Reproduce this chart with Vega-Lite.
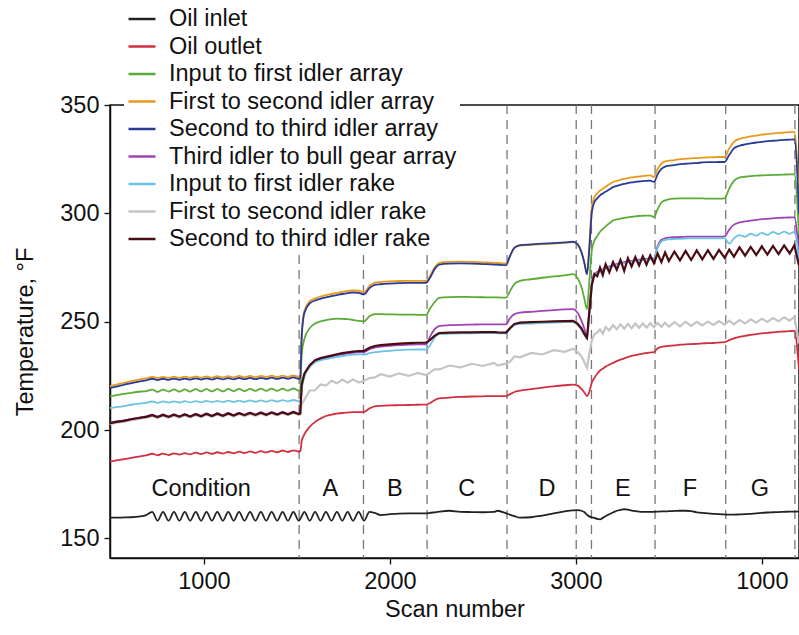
{
  "$schema": "https://vega.github.io/schema/vega-lite/v6.json",
  "autosize": {"type": "none"},
  "padding": {"left": 110, "top": 105, "right": 0, "bottom": 77},
  "width": 689,
  "height": 453,
  "background": "white",
  "config": {
    "font": "Liberation Sans",
    "view": {"stroke": "#111", "strokeWidth": 1.5},
    "axis": {"domainColor": "#111", "domainWidth": 1.5, "tickColor": "#111", "tickWidth": 1.3, "tickSize": 6, "labelFontSize": 23.5, "labelColor": "#111", "titleFontSize": 23.5, "titleFontWeight": "normal", "titleColor": "#111", "grid": false, "labelFont": "Liberation Sans", "titleFont": "Liberation Sans"}
  },
  "datasets": {
    "temps": [
        {"x":495,"a":159.6,"b":185.5,"c":215.6,"d":220.3,"e":219.4,"f":203.4,"g":210.2,"h":202.8,"i":203.2},
        {"x":530,"a":159.6,"b":186.0,"c":216.1,"d":221.0,"e":220.1,"f":204.0,"g":210.6,"h":203.4,"i":203.8},
        {"x":570,"a":159.7,"b":186.6,"c":216.7,"d":221.8,"e":220.9,"f":204.5,"g":211.1,"h":203.9,"i":204.3},
        {"x":610,"a":159.8,"b":187.2,"c":217.2,"d":222.6,"e":221.7,"f":205.2,"g":211.7,"h":204.6,"i":205.0},
        {"x":650,"a":160.1,"b":187.8,"c":217.7,"d":223.3,"e":222.4,"f":205.8,"g":212.2,"h":205.2,"i":205.6},
        {"x":690,"a":160.8,"b":188.3,"c":218.0,"d":223.9,"e":223.0,"f":206.3,"g":212.6,"h":205.7,"i":206.1},
        {"x":722,"a":162.3,"b":189.1,"c":218.7,"d":224.6,"e":223.7,"f":207.1,"g":213.2,"h":206.5,"i":206.9},
        {"x":751,"a":158.2,"b":188.4,"c":217.7,"d":224.0,"e":223.1,"f":206.2,"g":212.6,"h":205.6,"i":206.0},
        {"x":780,"a":162.3,"b":189.2,"c":218.7,"d":224.6,"e":223.7,"f":207.2,"g":213.3,"h":206.6,"i":207.0},
        {"x":810,"a":158.2,"b":188.5,"c":217.8,"d":224.1,"e":223.2,"f":206.3,"g":212.7,"h":205.7,"i":206.1},
        {"x":839,"a":162.3,"b":189.3,"c":218.8,"d":224.7,"e":223.8,"f":207.3,"g":213.3,"h":206.7,"i":207.1},
        {"x":868,"a":158.2,"b":188.7,"c":217.8,"d":224.1,"e":223.2,"f":206.4,"g":212.7,"h":205.8,"i":206.2},
        {"x":897,"a":162.3,"b":189.4,"c":218.8,"d":224.7,"e":223.8,"f":207.4,"g":213.4,"h":206.8,"i":207.2},
        {"x":926,"a":158.2,"b":188.8,"c":217.8,"d":224.2,"e":223.3,"f":206.5,"g":212.8,"h":205.9,"i":206.3},
        {"x":956,"a":162.3,"b":189.6,"c":218.9,"d":224.8,"e":223.9,"f":207.5,"g":213.4,"h":206.9,"i":207.3},
        {"x":985,"a":158.2,"b":188.9,"c":217.9,"d":224.2,"e":223.3,"f":206.6,"g":212.8,"h":206.0,"i":206.4},
        {"x":1014,"a":162.3,"b":189.7,"c":218.9,"d":224.8,"e":223.9,"f":207.7,"g":213.5,"h":207.1,"i":207.5},
        {"x":1043,"a":158.2,"b":189.0,"c":217.9,"d":224.2,"e":223.3,"f":206.7,"g":212.9,"h":206.1,"i":206.5},
        {"x":1072,"a":162.3,"b":189.8,"c":218.9,"d":224.9,"e":224.0,"f":207.8,"g":213.5,"h":207.2,"i":207.6},
        {"x":1102,"a":158.2,"b":189.2,"c":217.9,"d":224.3,"e":223.4,"f":206.8,"g":212.9,"h":206.2,"i":206.6},
        {"x":1131,"a":162.3,"b":189.9,"c":219.0,"d":224.9,"e":224.0,"f":207.9,"g":213.6,"h":207.3,"i":207.7},
        {"x":1160,"a":158.2,"b":189.3,"c":218.0,"d":224.3,"e":223.4,"f":206.9,"g":213.0,"h":206.3,"i":206.7},
        {"x":1189,"a":162.3,"b":190.1,"c":219.0,"d":225.0,"e":224.1,"f":208.0,"g":213.6,"h":207.4,"i":207.8},
        {"x":1218,"a":158.2,"b":189.4,"c":218.0,"d":224.4,"e":223.5,"f":207.1,"g":213.0,"h":206.5,"i":206.9},
        {"x":1248,"a":162.3,"b":190.2,"c":219.0,"d":225.0,"e":224.1,"f":208.1,"g":213.7,"h":207.5,"i":207.9},
        {"x":1277,"a":158.2,"b":189.5,"c":218.1,"d":224.4,"e":223.5,"f":207.2,"g":213.1,"h":206.6,"i":207.0},
        {"x":1306,"a":162.3,"b":190.3,"c":219.1,"d":225.0,"e":224.1,"f":208.2,"g":213.7,"h":207.6,"i":208.0},
        {"x":1335,"a":158.2,"b":189.7,"c":218.1,"d":224.5,"e":223.6,"f":207.3,"g":213.1,"h":206.7,"i":207.1},
        {"x":1364,"a":162.3,"b":190.4,"c":219.1,"d":225.1,"e":224.2,"f":208.3,"g":213.8,"h":207.7,"i":208.1},
        {"x":1394,"a":158.2,"b":189.8,"c":218.1,"d":224.5,"e":223.6,"f":207.4,"g":213.2,"h":206.8,"i":207.2},
        {"x":1423,"a":162.3,"b":190.6,"c":219.1,"d":225.1,"e":224.2,"f":208.4,"g":213.8,"h":207.8,"i":208.2},
        {"x":1452,"a":158.2,"b":189.9,"c":218.2,"d":224.6,"e":223.7,"f":207.5,"g":213.3,"h":206.9,"i":207.3},
        {"x":1481,"a":162.3,"b":190.7,"c":219.2,"d":225.2,"e":224.3,"f":208.5,"g":213.9,"h":207.9,"i":208.3},
        {"x":1510,"a":158.2,"b":190.1,"c":218.2,"d":224.6,"e":223.7,"f":207.6,"g":213.3,"h":207.0,"i":207.4},
        {"x":1518,"a":159.0,"b":190.2,"c":218.5,"d":224.9,"e":224.0,"f":207.8,"g":213.5,"h":207.2,"i":207.7},
        {"x":1526,"a":160.3,"b":195.0,"c":235.0,"d":245.0,"e":243.0,"f":220.0,"g":219.0,"h":212.0,"i":221.0},
        {"x":1540,"a":162.3,"b":198.0,"c":242.0,"d":255.0,"e":254.0,"f":225.0,"g":224.5,"h":214.0,"i":226.0},
        {"x":1569,"a":158.2,"b":201.5,"c":247.0,"d":259.5,"e":258.5,"f":229.5,"g":229.0,"h":218.3,"i":230.0},
        {"x":1598,"a":162.3,"b":203.8,"c":249.2,"d":260.8,"e":259.8,"f":231.8,"g":231.3,"h":218.4,"i":232.3},
        {"x":1627,"a":158.2,"b":205.3,"c":250.2,"d":261.6,"e":260.6,"f":232.7,"g":232.2,"h":221.1,"i":233.2},
        {"x":1656,"a":162.3,"b":206.5,"c":250.8,"d":262.3,"e":261.3,"f":233.3,"g":232.8,"h":220.6,"i":233.8},
        {"x":1686,"a":158.2,"b":207.2,"c":251.2,"d":262.8,"e":261.8,"f":233.9,"g":233.3,"h":222.8,"i":234.4},
        {"x":1715,"a":162.3,"b":207.6,"c":251.4,"d":263.3,"e":262.3,"f":234.5,"g":233.8,"h":221.6,"i":235.0},
        {"x":1744,"a":158.2,"b":207.9,"c":251.3,"d":263.8,"e":262.8,"f":235.0,"g":234.2,"h":223.3,"i":235.5},
        {"x":1773,"a":162.3,"b":208.1,"c":251.2,"d":264.2,"e":263.2,"f":235.4,"g":234.5,"h":221.9,"i":235.9},
        {"x":1802,"a":158.2,"b":208.3,"c":250.8,"d":264.5,"e":263.5,"f":235.7,"g":234.8,"h":223.4,"i":236.2},
        {"x":1832,"a":162.3,"b":208.3,"c":250.4,"d":264.3,"e":263.3,"f":236.0,"g":235.0,"h":222.0,"i":236.5},
        {"x":1861,"a":158.2,"b":208.4,"c":250.2,"d":263.5,"e":262.6,"f":236.0,"g":234.8,"h":222.8,"i":236.5},
        {"x":1890,"a":162.3,"b":210.0,"c":252.5,"d":266.5,"e":265.5,"f":237.3,"g":235.5,"h":224.0,"i":238.0},
        {"x":1919,"a":161.8,"b":211.0,"c":253.5,"d":268.0,"e":267.0,"f":238.1,"g":236.0,"h":224.3,"i":238.8},
        {"x":1950,"a":160.8,"b":211.2,"c":253.5,"d":268.3,"e":267.3,"f":238.5,"g":236.2,"h":225.8,"i":239.2},
        {"x":2000,"a":161.2,"b":211.4,"c":253.4,"d":268.6,"e":267.6,"f":238.9,"g":236.6,"h":224.7,"i":239.6},
        {"x":2050,"a":161.5,"b":211.5,"c":253.3,"d":268.8,"e":267.8,"f":239.2,"g":236.9,"h":226.2,"i":239.9},
        {"x":2100,"a":161.6,"b":211.6,"c":253.3,"d":268.9,"e":267.9,"f":239.4,"g":237.1,"h":225.0,"i":240.1},
        {"x":2150,"a":161.6,"b":211.7,"c":253.2,"d":268.9,"e":267.9,"f":239.6,"g":237.2,"h":226.4,"i":240.3},
        {"x":2195,"a":161.6,"b":211.8,"c":253.2,"d":268.9,"e":268.0,"f":239.6,"g":237.2,"h":225.4,"i":240.3},
        {"x":2215,"a":161.8,"b":212.5,"c":256.0,"d":271.0,"e":270.2,"f":243.0,"g":239.0,"h":226.5,"i":241.5},
        {"x":2240,"a":162.1,"b":213.8,"c":259.0,"d":275.0,"e":274.2,"f":246.5,"g":242.5,"h":228.0,"i":243.5},
        {"x":2265,"a":162.4,"b":214.6,"c":261.0,"d":277.2,"e":276.4,"f":248.0,"g":244.3,"h":228.0,"i":244.8},
        {"x":2320,"a":162.8,"b":215.0,"c":261.4,"d":277.6,"e":276.8,"f":248.4,"g":244.5,"h":229.8,"i":245.0},
        {"x":2380,"a":162.3,"b":215.3,"c":261.5,"d":277.7,"e":276.9,"f":248.6,"g":244.6,"h":229.0,"i":245.1},
        {"x":2440,"a":162.2,"b":215.5,"c":261.4,"d":277.6,"e":276.8,"f":248.7,"g":244.7,"h":230.6,"i":245.1},
        {"x":2500,"a":162.1,"b":215.6,"c":261.3,"d":277.4,"e":276.6,"f":248.8,"g":244.8,"h":229.6,"i":245.2},
        {"x":2560,"a":162.3,"b":215.7,"c":261.2,"d":277.2,"e":276.4,"f":248.8,"g":244.8,"h":231.0,"i":245.2},
        {"x":2580,"a":162.8,"b":215.7,"c":261.2,"d":277.1,"e":276.3,"f":248.8,"g":244.7,"h":229.8,"i":245.1},
        {"x":2625,"a":161.6,"b":215.7,"c":261.1,"d":276.9,"e":276.1,"f":248.8,"g":244.6,"h":230.8,"i":245.0},
        {"x":2645,"a":161.0,"b":216.5,"c":264.0,"d":280.0,"e":280.2,"f":251.5,"g":246.5,"h":231.5,"i":247.0},
        {"x":2670,"a":160.3,"b":217.6,"c":267.5,"d":284.0,"e":284.2,"f":253.5,"g":248.5,"h":234.0,"i":249.0},
        {"x":2700,"a":159.6,"b":218.2,"c":268.9,"d":285.1,"e":285.3,"f":254.2,"g":249.0,"h":233.6,"i":249.6},
        {"x":2760,"a":159.8,"b":218.9,"c":269.6,"d":285.5,"e":285.7,"f":254.6,"g":249.2,"h":235.6,"i":249.8},
        {"x":2820,"a":160.6,"b":219.6,"c":270.3,"d":285.8,"e":286.0,"f":255.0,"g":249.4,"h":234.9,"i":250.0},
        {"x":2880,"a":161.6,"b":220.2,"c":270.9,"d":286.1,"e":286.3,"f":255.4,"g":249.6,"h":236.9,"i":250.2},
        {"x":2940,"a":162.5,"b":220.7,"c":271.4,"d":286.4,"e":286.6,"f":255.7,"g":249.8,"h":236.1,"i":250.3},
        {"x":2985,"a":163.0,"b":221.0,"c":272.0,"d":286.7,"e":286.9,"f":255.8,"g":249.9,"h":237.6,"i":250.4},
        {"x":3010,"a":163.1,"b":220.5,"c":270.0,"d":285.5,"e":285.7,"f":254.0,"g":248.5,"h":236.0,"i":249.0},
        {"x":3030,"a":162.8,"b":219.0,"c":266.0,"d":282.0,"e":282.2,"f":250.5,"g":246.3,"h":234.0,"i":247.0},
        {"x":3045,"a":162.2,"b":217.5,"c":261.0,"d":277.5,"e":277.5,"f":247.0,"g":244.0,"h":231.5,"i":244.5},
        {"x":3060,"a":161.0,"b":215.7,"c":255.8,"d":272.5,"e":271.9,"f":243.0,"g":242.0,"h":228.8,"i":242.6},
        {"x":3072,"a":160.2,"b":217.5,"c":268.0,"d":285.0,"e":283.0,"f":255.0,"g":253.0,"h":235.0,"i":254.0},
        {"x":3086,"a":159.8,"b":222.0,"c":283.0,"d":303.0,"e":300.5,"f":268.0,"g":267.0,"h":241.5,"i":267.0},
        {"x":3100,"a":159.5,"b":224.1,"c":287.4,"d":307.5,"e":305.2,"f":272.0,"g":271.5,"h":244.2,"i":272.0},
        {"x":3115,"a":159.0,"b":226.0,"c":289.5,"d":309.2,"e":306.9,"f":273.0,"g":272.5,"h":245.0,"i":271.0},
        {"x":3130,"a":158.8,"b":227.5,"c":291.5,"d":310.5,"e":308.3,"f":273.5,"g":273.0,"h":246.5,"i":275.0},
        {"x":3145,"a":159.5,"b":228.4,"c":292.8,"d":311.4,"e":309.2,"f":274.2,"g":273.8,"h":244.5,"i":271.5},
        {"x":3160,"a":160.3,"b":229.3,"c":294.0,"d":312.3,"e":310.0,"f":275.0,"g":274.5,"h":247.5,"i":276.5},
        {"x":3180,"a":161.2,"b":230.2,"c":295.4,"d":313.4,"e":311.0,"f":275.6,"g":275.2,"h":246.0,"i":272.8},
        {"x":3200,"a":162.0,"b":231.0,"c":296.7,"d":314.5,"e":312.1,"f":276.1,"g":275.7,"h":248.5,"i":277.5},
        {"x":3220,"a":162.8,"b":231.8,"c":297.2,"d":315.0,"e":312.7,"f":276.6,"g":276.2,"h":246.5,"i":274.0},
        {"x":3240,"a":163.2,"b":232.5,"c":297.6,"d":315.5,"e":313.2,"f":277.1,"g":276.7,"h":248.8,"i":278.5},
        {"x":3260,"a":163.5,"b":233.1,"c":297.9,"d":315.9,"e":313.6,"f":277.5,"g":277.1,"h":246.8,"i":273.5},
        {"x":3280,"a":163.3,"b":233.7,"c":298.2,"d":316.3,"e":314.0,"f":277.8,"g":277.4,"h":249.0,"i":279.3},
        {"x":3300,"a":162.9,"b":234.2,"c":298.4,"d":316.6,"e":314.3,"f":278.1,"g":277.7,"h":247.0,"i":275.5},
        {"x":3320,"a":162.6,"b":234.6,"c":298.6,"d":316.8,"e":314.5,"f":278.4,"g":278.0,"h":249.2,"i":279.8},
        {"x":3340,"a":162.4,"b":235.0,"c":298.8,"d":317.0,"e":314.7,"f":278.6,"g":278.2,"h":247.2,"i":276.0},
        {"x":3360,"a":162.3,"b":235.3,"c":298.9,"d":317.2,"e":314.9,"f":278.8,"g":278.4,"h":249.2,"i":280.2},
        {"x":3380,"a":162.3,"b":235.6,"c":299.0,"d":317.4,"e":315.0,"f":279.0,"g":278.6,"h":247.3,"i":276.3},
        {"x":3400,"a":162.3,"b":235.8,"c":299.0,"d":317.5,"e":315.1,"f":279.1,"g":278.7,"h":249.3,"i":280.6},
        {"x":3420,"a":162.3,"b":236.0,"c":298.3,"d":316.8,"e":314.5,"f":279.2,"g":278.8,"h":247.5,"i":277.0},
        {"x":3440,"a":162.4,"b":237.8,"c":302.0,"d":320.5,"e":318.0,"f":285.0,"g":284.2,"h":249.5,"i":281.5},
        {"x":3460,"a":162.5,"b":238.4,"c":305.0,"d":323.0,"e":320.5,"f":287.8,"g":287.0,"h":247.6,"i":277.5},
        {"x":3480,"a":162.5,"b":238.7,"c":306.0,"d":324.0,"e":321.6,"f":288.5,"g":287.7,"h":249.6,"i":282.0},
        {"x":3500,"a":162.6,"b":238.9,"c":306.5,"d":324.3,"e":322.0,"f":288.8,"g":288.0,"h":247.7,"i":278.0},
        {"x":3530,"a":162.7,"b":239.1,"c":306.8,"d":324.6,"e":322.3,"f":289.0,"g":288.2,"h":249.8,"i":282.4},
        {"x":3560,"a":162.8,"b":239.4,"c":306.9,"d":325.0,"e":322.7,"f":289.1,"g":288.3,"h":247.9,"i":278.3},
        {"x":3590,"a":162.8,"b":239.6,"c":306.9,"d":325.2,"e":322.9,"f":289.2,"g":288.4,"h":249.9,"i":282.7},
        {"x":3620,"a":162.6,"b":239.7,"c":306.9,"d":325.4,"e":323.1,"f":289.3,"g":288.5,"h":248.1,"i":278.5},
        {"x":3650,"a":162.1,"b":239.8,"c":306.9,"d":325.5,"e":323.2,"f":289.3,"g":288.5,"h":250.0,"i":282.9},
        {"x":3680,"a":161.8,"b":240.0,"c":306.9,"d":325.7,"e":323.5,"f":289.3,"g":288.5,"h":248.3,"i":278.8},
        {"x":3710,"a":161.6,"b":240.1,"c":306.8,"d":325.8,"e":323.6,"f":289.3,"g":288.5,"h":250.1,"i":283.0},
        {"x":3740,"a":161.4,"b":240.2,"c":306.8,"d":325.9,"e":323.6,"f":289.3,"g":288.5,"h":248.5,"i":279.0},
        {"x":3770,"a":161.2,"b":240.4,"c":306.8,"d":326.0,"e":323.7,"f":289.3,"g":288.5,"h":250.3,"i":283.1},
        {"x":3800,"a":161.1,"b":240.6,"c":306.9,"d":326.0,"e":323.7,"f":289.4,"g":288.6,"h":248.7,"i":279.5},
        {"x":3825,"a":161.0,"b":241.5,"c":311.5,"d":330.0,"e":327.0,"f":292.5,"g":286.0,"h":250.5,"i":283.3},
        {"x":3850,"a":161.0,"b":242.3,"c":315.0,"d":333.0,"e":330.0,"f":294.8,"g":288.5,"h":248.8,"i":280.0},
        {"x":3880,"a":161.1,"b":243.0,"c":316.5,"d":334.4,"e":331.2,"f":295.8,"g":290.0,"h":250.8,"i":284.3},
        {"x":3910,"a":161.2,"b":243.5,"c":316.9,"d":335.0,"e":331.8,"f":296.3,"g":289.2,"h":249.2,"i":280.5},
        {"x":3940,"a":161.4,"b":243.9,"c":317.2,"d":335.5,"e":332.3,"f":296.7,"g":290.6,"h":251.1,"i":284.5},
        {"x":3970,"a":161.6,"b":244.3,"c":317.4,"d":335.9,"e":332.7,"f":297.0,"g":289.7,"h":249.6,"i":280.8},
        {"x":4000,"a":161.8,"b":244.6,"c":317.5,"d":336.3,"e":333.0,"f":297.3,"g":291.0,"h":251.4,"i":284.8},
        {"x":4030,"a":162.0,"b":244.9,"c":317.6,"d":336.6,"e":333.3,"f":297.5,"g":290.1,"h":249.9,"i":281.0},
        {"x":4060,"a":162.1,"b":245.1,"c":317.8,"d":336.9,"e":333.5,"f":297.7,"g":291.4,"h":251.7,"i":285.0},
        {"x":4090,"a":162.2,"b":245.3,"c":317.8,"d":337.1,"e":333.7,"f":297.9,"g":290.4,"h":250.2,"i":281.2},
        {"x":4120,"a":162.3,"b":245.5,"c":317.9,"d":337.3,"e":333.9,"f":298.0,"g":291.6,"h":252.0,"i":285.2},
        {"x":4150,"a":162.4,"b":245.7,"c":318.0,"d":337.5,"e":334.0,"f":298.1,"g":290.6,"h":250.5,"i":281.5},
        {"x":4175,"a":162.4,"b":245.8,"c":318.0,"d":337.6,"e":334.1,"f":298.2,"g":291.5,"h":252.2,"i":285.3},
        {"x":4200,"a":162.5,"b":228.0,"c":290.0,"d":305.0,"e":300.0,"f":280.0,"g":278.0,"h":240.0,"i":276.0}
    ]
  },
  "layer": [
    {
      "data": {"values": [{"x": 1512}, {"x": 1858}, {"x": 2200}, {"x": 2630}, {"x": 3002}, {"x": 3084}, {"x": 3426}, {"x": 3806}, {"x": 4178}]},
      "mark": {"type": "rule", "color": "#777", "strokeDash": [9, 6], "strokeWidth": 1.3},
      "encoding": {"x": {"field": "x", "type": "quantitative"}}
    },
    {
      "data": {"name": "temps"},
      "transform": [{"fold": ["a", "b", "c", "d", "e", "f", "g"], "as": ["series", "temp"]}],
      "mark": {"type": "line", "strokeWidth": 1.8, "clip": true, "interpolate": "monotone"},
      "encoding": {
        "x": {"field": "x", "type": "quantitative", "scale": {"domain": [495, 4200], "nice": false, "zero": false},
          "axis": {"values": [1000, 2000, 3000, 4000], "labelExpr": "datum.value == 4000 ? '1000' : format(datum.value, 'd')", "title": "Scan number", "labelPadding": 5, "titlePadding": 5}},
        "y": {"field": "temp", "type": "quantitative", "scale": {"domain": [141, 350], "nice": false, "zero": false},
          "axis": {"values": [150, 200, 250, 300, 350], "title": "Temperature, °F", "labelPadding": 5, "titlePadding": 22}},
        "color": {"field": "series", "type": "nominal",
          "scale": {"domain": ["a", "b", "c", "d", "e", "f", "g", "h", "i"], "range": ["#222222", "#d0303e", "#5aac35", "#e89a1c", "#283c96", "#a044b4", "#6cc4e4", "#c4c4c4", "#4a0c12"]},
          "legend": {"orient": "none", "legendX": 14, "legendY": -104, "title": null, "fillColor": "white", "padding": 3,
            "labelExpr": "['Oil inlet','Oil outlet','Input to first idler array','First to second idler array','Second to third idler array','Third idler to bull gear array','Input to first idler rake','First to second idler rake','Second to third idler rake'][indexof(['a','b','c','d','e','f','g','h','i'], datum.label)]",
            "symbolType": "stroke", "symbolSize": 729, "symbolStrokeWidth": 2.5, "labelFontSize": 23.5, "labelColor": "#111", "labelFont": "Liberation Sans", "labelOffset": 12, "rowPadding": 0.5, "labelLimit": 500}}
      }
    },
    {
      "data": {"name": "temps"},
      "transform": [{"fold": ["h", "i"], "as": ["series", "temp"]}],
      "mark": {"type": "line", "strokeWidth": 2.2, "clip": true, "interpolate": "linear"},
      "encoding": {
        "x": {"field": "x", "type": "quantitative"},
        "y": {"field": "temp", "type": "quantitative"},
        "color": {"field": "series", "type": "nominal"}
      }
    },
    {
      "data": {"values": [
        {"x": 985, "y": 173, "label": "Condition"},
        {"x": 1680, "y": 173, "label": "A"},
        {"x": 2027, "y": 173, "label": "B"},
        {"x": 2413, "y": 173, "label": "C"},
        {"x": 2845, "y": 173, "label": "D"},
        {"x": 3253, "y": 173, "label": "E"},
        {"x": 3614, "y": 173, "label": "F"},
        {"x": 3990, "y": 173, "label": "G"}
      ]},
      "mark": {"type": "text", "fontSize": 23.5, "color": "#111", "font": "Liberation Sans"},
      "encoding": {
        "x": {"field": "x", "type": "quantitative"},
        "y": {"field": "y", "type": "quantitative"},
        "text": {"field": "label"}
      }
    }
  ]
}
